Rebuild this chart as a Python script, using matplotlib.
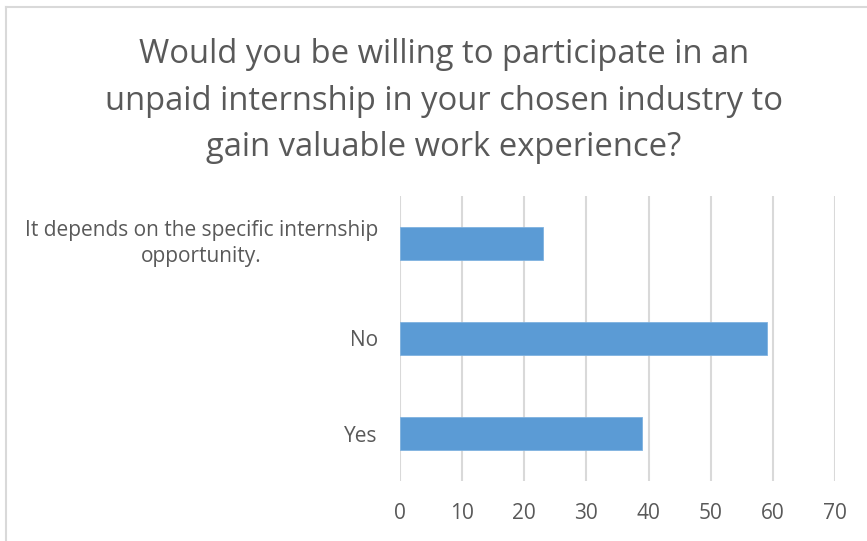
import matplotlib
matplotlib.use("Agg")
import matplotlib.pyplot as plt

categories = ["It depends on the specific internship\nopportunity.", "No", "Yes"]
counts = [23, 59, 39]
x_ticks = [0, 10, 20, 30, 40, 50, 60, 70]
title = ("Would you be willing to participate in an\n"
         "unpaid internship in your chosen industry to\n"
         "gain valuable work experience?")

TEXT = "#595959"
GRID = "#D9D9D9"
BAR = "#5B9BD5"
FONT = "Open Sans"

W, H = 867, 541
fig = plt.figure(figsize=(W / 100, H / 100), dpi=100)
fig.patch.set_facecolor("white")

# chart border (top and left edges visible)
fig.add_artist(plt.Line2D([5.5 / W, 5.5 / W], [0, 1 - 6.5 / H], color=GRID, lw=1.5))
fig.add_artist(plt.Line2D([5.5 / W, 1], [1 - 6.5 / H, 1 - 6.5 / H], color=GRID, lw=1.5))

fig.text(444 / W, 1 - 38 / H, title, ha="center", va="top", fontsize=23.6,
         color=TEXT, family=FONT, linespacing=1.54)

ax = fig.add_axes([400 / W, 60 / H, 435 / W, 285 / H])
y = list(range(len(categories)))
ax.barh(y, counts, height=0.35, color=BAR, edgecolor="#7FB2E0", linewidth=0.6, zorder=3)
ax.set_ylim(len(categories) - 0.5, -0.5)
ax.set_xlim(0, 70)
ax.set_xticks(x_ticks)
ax.set_xticklabels([str(t) for t in x_ticks])
ax.set_yticks(y)
ax.set_yticklabels(categories, multialignment="center", linespacing=1.3)
ax.grid(axis="x", color=GRID, lw=1.5, zorder=0)
ax.grid(axis="y", visible=False)
for s in ax.spines.values():
    s.set_visible(False)
ax.tick_params(axis="both", length=0, colors=TEXT, labelsize=15)
ax.tick_params(axis="x", pad=16)
ax.tick_params(axis="y", pad=16)
for lbl in ax.get_xticklabels() + ax.get_yticklabels():
    lbl.set_family(FONT)
    lbl.set_color(TEXT)
# two-line category label centred on its bar
ax.get_yticklabels()[0].set_va("center")

fig.savefig("out.png", dpi=100, facecolor="white")
